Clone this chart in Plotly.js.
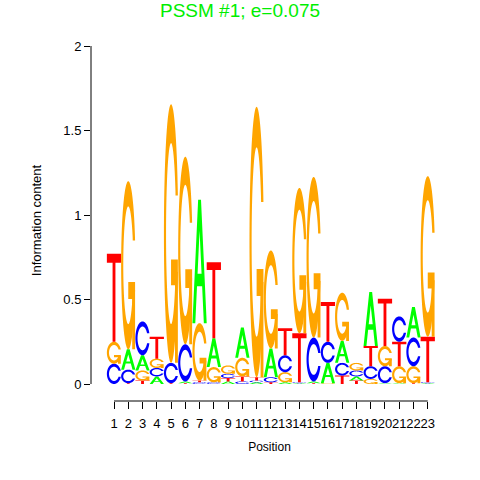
<!DOCTYPE html>
<html>
<head>
<meta charset="utf-8">
<script src="https://cdn.plot.ly/plotly-3.0.1.min.js"></script>
<style>html,body{margin:0;padding:0;background:#fff;}#chart{width:480px;height:480px;}</style>
</head>
<body>
<div id="chart"></div>
<script>
// ---- data (information content per letter per position) ----
const positions = [1,2,3,4,5,6,7,8,9,10,11,12,13,14,15,16,17,18,19,20,21,22,23];
const tickLabels = ["1","2","3","4","5","6","7","8","9","10","11","12","13","14","15","16","17","18","19","20","21","22","23"];
const heightA = [0, 0.12, 0.09, 0.045, 0, 0.01, 0.73, 0.17, 0.015, 0.18, 0.01, 0.17, 0.01, 0.005, 0.01, 0.12, 0.13, 0.025, 0.32, 0.005, 0.005, 0.18, 0.005];
const heightC = [0.12, 0.08, 0.2, 0.05, 0.12, 0.22, 0.01, 0.01, 0.025, 0.015, 0.01, 0.03, 0.1, 0.005, 0.26, 0.125, 0.075, 0.035, 0.075, 0.1, 0.15, 0.17, 0.005];
const heightG = [0.13, 0.995, 0.06, 0.055, 1.53, 1.11, 0.34, 0.09, 0.05, 0.11, 1.6, 0.58, 0.06, 0.86, 0.95, 0.005, 0.285, 0.045, 0.03, 0.12, 0.1, 0.1, 0.95];
const heightT = [0.52, 0.005, 0.02, 0.13, 0.005, 0.005, 0.01, 0.45, 0.02, 0.03, 0.02, 0.01, 0.16, 0.29, 0.005, 0.235, 0.05, 0.02, 0.12, 0.28, 0.145, 0.005, 0.27];
const titleText = "PSSM #1; e=0.075";

// ---- style ----
const colors = {A: "#00ff00", C: "#0000ff", G: "#ffa500", T: "#ff0000"};
const font = "Liberation Sans, Arial, Helvetica, sans-serif";

// ---- glyph outlines in a unit box (seqLogo style) ----
function linspace(a, b, n){const r=[];for(let i=0;i<n;i++)r.push(a+(b-a)*i/(n-1));return r;}
function cShape(){
  const n=40, a1=linspace(0.3+Math.PI/2, Math.PI, n), a2=linspace(Math.PI, 1.5*Math.PI, n);
  const xl1=a1.map(a=>0.5+0.5*Math.sin(a)), yl1=a1.map(a=>0.5+0.5*Math.cos(a));
  const xl2=a2.map(a=>0.5+0.5*Math.sin(a)), yl2=a2.map(a=>0.5+0.5*Math.cos(a));
  const xl=xl1.concat(xl2), yl=yl1.concat(yl2);
  let x=xl.concat(xl.slice().reverse()), y=yl.concat(yl.slice().reverse().map(v=>1-v));
  const my=Math.max(...yl1);
  let xi1=[], yi1=[];
  a1.forEach(a=>{const yy=0.5+0.35*Math.cos(a); if(yy<=my){xi1.push(0.5+0.35*Math.sin(a)); yi1.push(yy);}});
  yi1[0]=my;
  const xi2=a2.map(a=>0.5+0.35*Math.sin(a)), yi2=a2.map(a=>0.5+0.35*Math.cos(a));
  const xi=xi1.concat(xi2), yi=yi1.concat(yi2);
  const x1=xi.concat(xi.slice().reverse()), y1=yi.concat(yi.slice().reverse().map(v=>1-v));
  x=x.concat(x1.slice().reverse()); y=y.concat(y1.slice().reverse());
  return {poly: x.map((v,i)=>[v,y[i]]), r1: Math.max(...xl1)};
}
const cs = cShape();
const glyphs = {
  A: [[[0,0],[0.4,1],[0.6,1],[1,0],[0.8,0],[0.68,0.3],[0.32,0.3],[0.2,0]], [[0.36,0.4],[0.5,0.75],[0.64,0.4]]],
  T: [[[0,1],[1,1],[1,0.9],[0.6,0.9],[0.6,0],[0.4,0],[0.4,0.9],[0,0.9]]],
  C: [cs.poly],
  G: [cs.poly]
};
const gBar = [[cs.r1,0.4],[0.5,0.4],[0.5,0.3],[cs.r1-0.2,0.3],[cs.r1-0.2,0],[cs.r1,0]];

function pathFor(polys, x0, base, h){
  return polys.map(p=>'M'+p.map(q=>(x0+q[0]).toFixed(4)+','+(base+q[1]*h).toFixed(5)).join('L')+'Z').join(' ');
}

const shapes = [];
positions.forEach((p, i)=>{
  const items = [["A",heightA[i]],["C",heightC[i]],["G",heightG[i]],["T",heightT[i]]]
    .filter(d=>d[1]>0).sort((a,b)=>a[1]-b[1]);
  let base = 0;
  items.forEach(([L,h])=>{
    const x0 = p - 0.5;
    shapes.push({type:'path', xref:'x', yref:'y', path:pathFor(glyphs[L], x0, base, h),
      fillcolor:colors[L], fillrule:'evenodd', line:{width:0}, layer:'above'});
    if (L==='G') shapes.push({type:'path', xref:'x', yref:'y', path:pathFor([gBar], x0, base, h),
      fillcolor:colors[L], line:{width:0}, layer:'above'});
    base += h;
  });
});
// axis lines spanning tick range (R style)
shapes.push({type:'line', xref:'paper', yref:'y', x0:0, x1:0, y0:0, y1:2, line:{color:'#000', width:1}});
shapes.push({type:'line', xref:'x', yref:'paper', x0:1, x1:23, y0:0, y1:0, line:{color:'#000', width:1}});

const totals = positions.map((p,i)=>heightA[i]+heightC[i]+heightG[i]+heightT[i]);
const data = [{x: positions, y: totals, type:'scatter', mode:'markers', marker:{opacity:0}, hoverinfo:'skip', showlegend:false}];

const layout = {
  width:480, height:480,
  margin:{l:91, r:32, t:40, b:79},
  paper_bgcolor:'#fff', plot_bgcolor:'#fff',
  font:{family:font, size:12, color:'#000'},
  title:{text:titleText, font:{family:font, size:19, color:'#00ee00'}, x:0.5, xref:'container', xanchor:'center', y:1-10/480, yref:'container', yanchor:'middle'},
  xaxis:{range:[-0.613, 24.42], tickvals:positions, ticktext:tickLabels, tickangle:0, ticks:'outside', ticklen:7, tickcolor:'#000',
    ticklabelstandoff:3,
    showline:false, showgrid:false, zeroline:false, tickfont:{size:13, family:font},
    title:{text:'Position', font:{size:12, family:font}, standoff:13}, automargin:false, fixedrange:true},
  yaxis:{range:[-0.1006, 2.0355], tickvals:[0,0.5,1,1.5,2], ticktext:['0','0.5','1','1.5','2'], ticks:'outside', ticklen:6, tickcolor:'#000',
    showline:false, showgrid:false, zeroline:false, tickfont:{size:13, family:font},
    title:{text:'Information content', font:{size:13, family:font}, standoff:18}, automargin:false, fixedrange:true},
  shapes: shapes,
  showlegend:false
};
Plotly.newPlot('chart', data, layout, {displayModeBar:false, staticPlot:true});
</script>
</body>
</html>
